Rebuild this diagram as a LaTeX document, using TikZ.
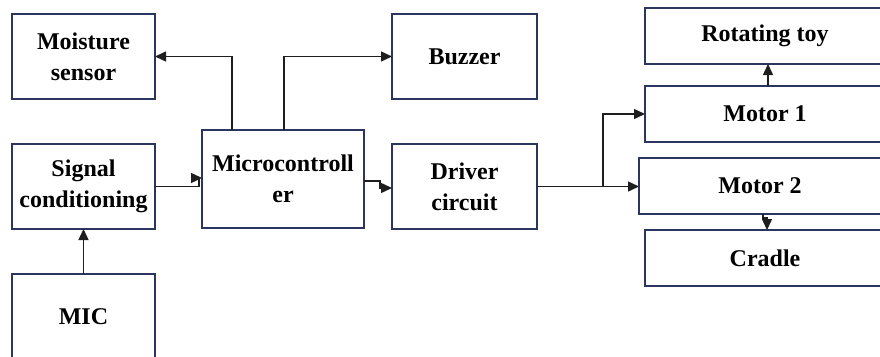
\documentclass[tikz,border=0pt]{standalone}
\usepackage{fontspec}
\setmainfont{Liberation Serif}
\usetikzlibrary{arrows.meta}
\definecolor{boxline}{RGB}{44,52,96}
\definecolor{wire}{RGB}{30,30,30}

\begin{document}
\begin{tikzpicture}[x=1pt, y=-1pt,
    block/.style={draw=boxline, line width=1.4pt, inner sep=0pt, outer sep=0pt,
        align=center, font=\fontsize{24}{31}\selectfont\bfseries},
    link/.style={draw=wire, line width=1.4pt, -{Triangle[length=11pt,width=10pt]}}]
    \useasboundingbox (0,0) rectangle (880,356);

    % Left column
    \node[block, minimum width=143, minimum height=85] (moist) at (83.5,56.5) {Moisture\\sensor};
    \node[block, minimum width=143, minimum height=85] (sig) at (83.5,186.5) {Signal\\conditioning};
    \node[block, minimum width=143, minimum height=86] (mic) at (83.5,317) {MIC};

    % Middle
    \node[block, minimum width=162, minimum height=98] (micro) at (283,179) {Microcontroll\\er};
    \node[block, minimum width=145, minimum height=85] (buzz) at (464.5,56.5) {Buzzer};
    \node[block, minimum width=145, minimum height=85] (drv) at (464.5,186.5) {Driver\\circuit};

    % Right column (runs off the page)
    \node[block, minimum width=240, minimum height=56] (toy) at (765,36) {Rotating toy};
    \node[block, minimum width=240, minimum height=56] (mot1) at (765,114) {Motor 1};
    \node[block, minimum width=242, minimum height=56] (mot2) at (760,186) {Motor 2};
    \node[block, minimum width=240, minimum height=56] (cradle) at (765,258) {Cradle};

    % Connections
    \draw[link] (mic.north) -- (sig.south);
    \draw[link] (sig.east) -- ++(44,0) |- ([yshift=1pt]micro.west);
    \draw[link] ([xshift=-51pt]micro.north) |- (moist.east);
    \draw[link] ([xshift=1pt]micro.north) |- (buzz.west);
    \draw[link] ([yshift=-2pt]micro.east) -- ++(16,0) |- ([yshift=-1.5pt]drv.west);
    \draw[link] (drv.east) -- (drv.east -| mot2.west);
    \coordinate (split) at (603,186.5);
    \draw[link] (split) |- (mot1.west);
    \draw[link] ([xshift=3pt]mot1.north) -- ([xshift=3pt]toy.south);
    \draw[link] ([xshift=3pt]mot2.south) -- ++(0,4) -| ([xshift=2pt]cradle.north);
\end{tikzpicture}
\end{document}
